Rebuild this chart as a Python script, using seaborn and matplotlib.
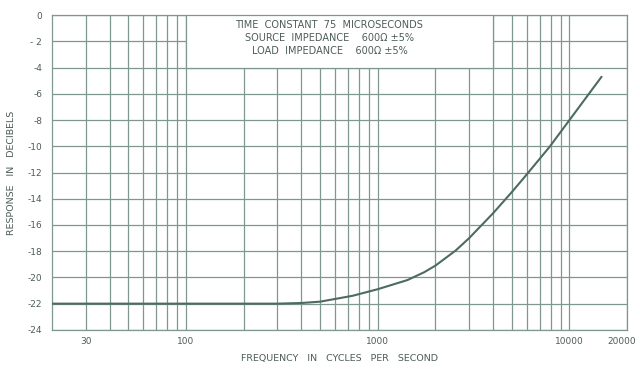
import matplotlib
matplotlib.use("Agg")
import matplotlib.pyplot as plt
import matplotlib.transforms as mtransforms
from matplotlib.patches import Rectangle
import seaborn as sns
import pandas as pd

# response curve
freq = [20, 100, 300, 400, 500, 740, 1000, 1430, 1750, 2000, 2550, 3000,
        4000, 5000, 5830, 7870, 10000, 14700]
db = [-22.0, -22.0, -22.0, -21.95, -21.85, -21.4, -20.9, -20.2, -19.6,
      -19.1, -17.95, -17.0, -15.1, -13.5, -12.35, -10.05, -8.0, -4.7]

x_ticks = [30, 100, 1000, 10000, 20000]
x_labels = ["30", "100", "1000", "10000", "20000"]
y_ticks = list(range(0, -26, -2))
y_labels = ["0", "- 2"] + [str(v) for v in y_ticks[2:]]
box_lines = ["TIME  CONSTANT  75  MICROSECONDS",
             "SOURCE  IMPEDANCE    600\u03a9 \u00b15%",
             "LOAD  IMPEDANCE    600\u03a9 \u00b15%"]

grid_c = "#7f988d"
line_c = "#4e6b60"
text_c = "#4d5c56"

sns.set_style("white")
plt.rcParams["font.family"] = ["DejaVu Sans"]

df = pd.DataFrame({"freq": freq, "db": db})

fig = plt.figure(figsize=(6.4, 3.69), dpi=100)
ax = fig.add_axes([0.081, 0.106, 0.899, 0.853])

sns.lineplot(data=df, x="freq", y="db", ax=ax, color=line_c, linewidth=1.5, zorder=5)

ax.set_xscale("log")
ax.set_xlim(20, 20000)
ax.set_ylim(-24, 0)

minor = [m * d for d in (10, 100, 1000) for m in range(2, 10)] + [10000]
minor = [v for v in minor if v > 20]
ax.set_xticks(minor, minor=True)
ax.set_xticks(x_ticks)
ax.set_xticklabels(x_labels)
ax.tick_params(axis="x", which="minor", labelbottom=False, length=0)
ax.set_yticks(y_ticks)
ax.set_yticklabels(y_labels)
ax.tick_params(axis="both", which="major", length=0, labelsize=6.5,
               colors=text_c)
ax.tick_params(axis="x", pad=5)
ax.tick_params(axis="y", pad=7)
last = ax.get_xticklabels()[-1]
last.set_transform(last.get_transform() +
                   mtransforms.ScaledTranslation(-0.06, 0, fig.dpi_scale_trans))

ax.set_axisbelow(True)
ax.grid(True, which="both", axis="x", color=grid_c, linewidth=0.9)
ax.grid(True, which="major", axis="y", color=grid_c, linewidth=0.9)
for s in ax.spines.values():
    s.set_color(grid_c)
    s.set_linewidth(0.9)

ax.add_patch(Rectangle((100, -4), 3900, 4, facecolor="white",
                       edgecolor=grid_c, linewidth=0.9, zorder=3))
for i, t in enumerate(box_lines):
    ax.text(560, -0.72 - i * 1.0, t, ha="center", va="center",
            fontsize=7, color=text_c, zorder=4)

ax.set_xlabel("FREQUENCY   IN   CYCLES   PER   SECOND", fontsize=6.8,
              color=text_c, labelpad=6)
ax.set_ylabel("RESPONSE   IN   DECIBELS", fontsize=6.8, color=text_c, labelpad=8)

fig.savefig("out.png", dpi=100)
